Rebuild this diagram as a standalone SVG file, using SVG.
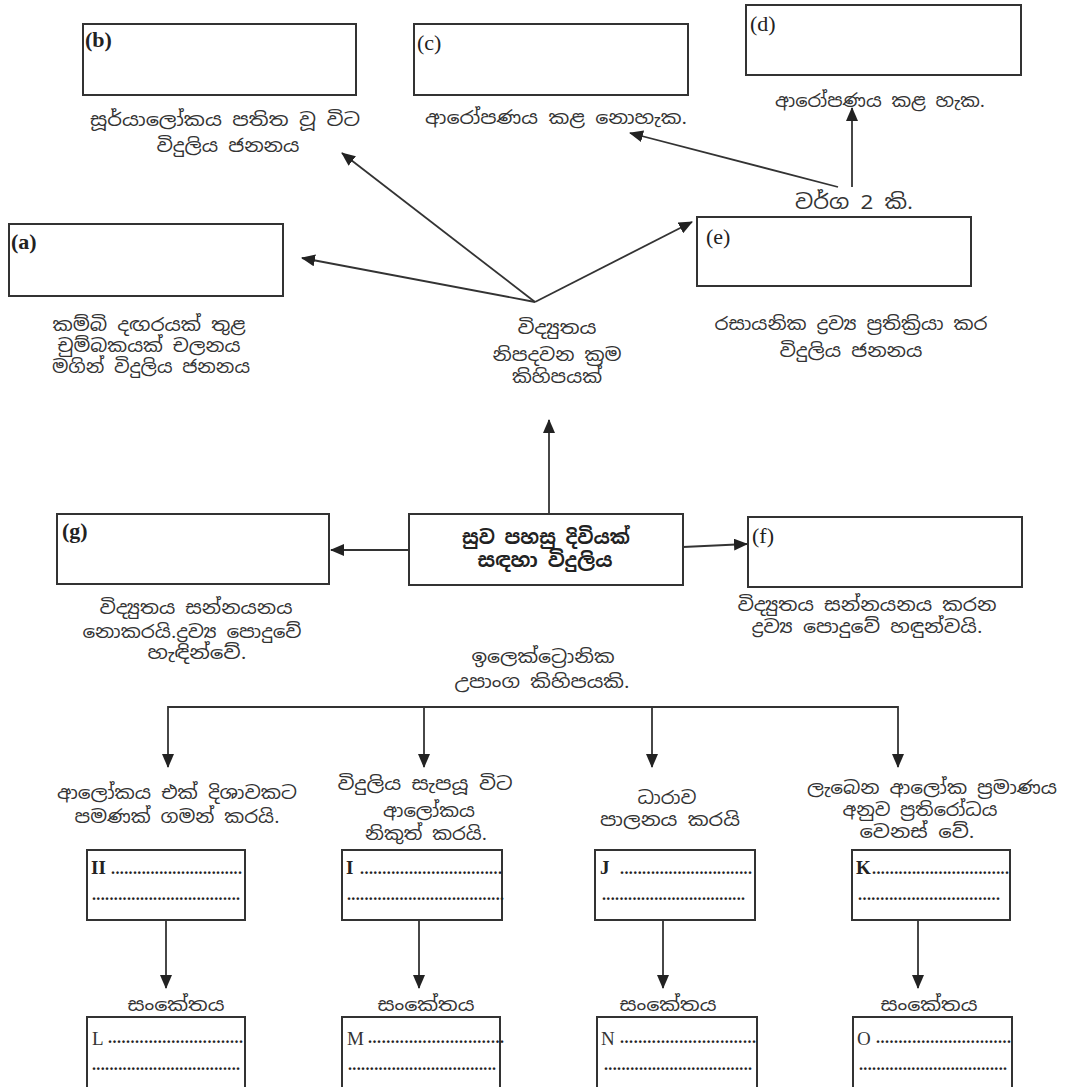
<svg xmlns="http://www.w3.org/2000/svg" width="1065" height="1087" viewBox="0 0 1065 1087">
<style>
.box{fill:#fff;stroke:#333;stroke-width:2}
.lbl{font-family:"Liberation Serif",serif;font-size:22px;fill:#222}
.b{font-weight:bold}
.si{font-family:"Noto Sans Sinhala","Noto Sans",sans-serif;font-size:18px;fill:#333;text-anchor:middle}
.big{font-size:20px}
.main{font-weight:bold;font-size:19px;fill:#222}
.let{font-family:"Liberation Serif",serif;font-size:19px;fill:#222;font-weight:bold}
.reg{font-weight:normal;fill:#333}
.dots{font-family:"Liberation Serif",serif;font-size:16px;fill:#222;font-weight:bold}
.ln{stroke:#333;stroke-width:1.8;fill:none}
</style>
<defs>
<marker id="ah" markerUnits="userSpaceOnUse" markerWidth="14" markerHeight="12" refX="13" refY="6" orient="auto">
<path d="M0,0 L14,6 L0,12 Z" fill="#222"/>
</marker>
</defs>
<rect width="1065" height="1087" fill="#fff"/>

<g id="connectors">
<line class="ln" x1="535" y1="302" x2="302" y2="258" marker-end="url(#ah)"/>
<line class="ln" x1="535" y1="302" x2="342" y2="153" marker-end="url(#ah)"/>
<line class="ln" x1="535" y1="302" x2="692" y2="222" marker-end="url(#ah)"/>
<line class="ln" x1="838" y1="187" x2="630" y2="133" marker-end="url(#ah)"/>
<line class="ln" x1="852" y1="187" x2="852" y2="108" marker-end="url(#ah)"/>
<line class="ln" x1="549" y1="514" x2="549" y2="420" marker-end="url(#ah)"/>
<line class="ln" x1="409" y1="550" x2="331" y2="550" marker-end="url(#ah)"/>
<line class="ln" x1="683" y1="547" x2="747" y2="544" marker-end="url(#ah)"/>
<line class="ln" x1="168" y1="707" x2="898" y2="707"/>
<line class="ln" x1="168" y1="706" x2="168" y2="767" marker-end="url(#ah)"/>
<line class="ln" x1="424" y1="707" x2="424" y2="767" marker-end="url(#ah)"/>
<line class="ln" x1="652" y1="707" x2="652" y2="767" marker-end="url(#ah)"/>
<line class="ln" x1="898" y1="706" x2="898" y2="767" marker-end="url(#ah)"/>
<line class="ln" x1="166" y1="920" x2="166" y2="988" marker-end="url(#ah)"/>
<line class="ln" x1="419" y1="920" x2="419" y2="988" marker-end="url(#ah)"/>
<line class="ln" x1="663" y1="920" x2="663" y2="988" marker-end="url(#ah)"/>
<line class="ln" x1="918" y1="920" x2="918" y2="988" marker-end="url(#ah)"/>
</g>

<g id="node-b">
<rect class="box" x="83" y="24" width="273" height="71"/>
<text class="lbl b" x="85" y="47">(b)</text>
<text class="si" x="225" y="126" textLength="270" lengthAdjust="spacingAndGlyphs">සූර්යාලෝකය පතිත වූ විට</text>
<text class="si" x="228" y="152" textLength="143" lengthAdjust="spacingAndGlyphs">විදුලිය ජනනය</text>
</g>
<g id="node-c">
<rect class="box" x="414" y="24" width="274" height="71"/>
<text class="lbl" x="417" y="50">(c)</text>
<text class="si" x="556" y="124" textLength="262" lengthAdjust="spacingAndGlyphs">ආරෝපණය කළ නොහැක.</text>
</g>
<g id="node-d">
<rect class="box" x="746" y="5" width="275" height="70"/>
<text class="lbl" x="750" y="31">(d)</text>
<text class="si" x="880" y="107" textLength="210" lengthAdjust="spacingAndGlyphs">ආරෝපණය කළ හැක.</text>
</g>
<g id="node-e">
<text class="si big" x="854" y="209" textLength="118" lengthAdjust="spacingAndGlyphs">වර්ග 2 කි.</text>
<rect class="box" x="697" y="217" width="274" height="69"/>
<text class="lbl" x="706" y="244">(e)</text>
<text class="si" x="851" y="330" textLength="273" lengthAdjust="spacingAndGlyphs">රසායනික ද්‍රව්‍ය ප්‍රතික්‍රියා කර</text>
<text class="si" x="851" y="357" textLength="143" lengthAdjust="spacingAndGlyphs">විදුලිය ජනනය</text>
</g>
<g id="node-a">
<rect class="box" x="9" y="224" width="274" height="72"/>
<text class="lbl b" x="11" y="249">(a)</text>
<text class="si" x="149" y="331" textLength="193" lengthAdjust="spacingAndGlyphs">කම්බි දඟරයක් තුළ</text>
<text class="si" x="149" y="352" textLength="183" lengthAdjust="spacingAndGlyphs">චුම්බකයක් චලනය</text>
<text class="si" x="151" y="373" textLength="198" lengthAdjust="spacingAndGlyphs">මගින් විදුලිය ජනනය</text>
</g>
<g id="node-methods">
<text class="si" x="557" y="334" textLength="79" lengthAdjust="spacingAndGlyphs">විද්‍යුතය</text>
<text class="si" x="557" y="361" textLength="129" lengthAdjust="spacingAndGlyphs">නිපදවන ක්‍රම</text>
<text class="si" x="557" y="383" textLength="90" lengthAdjust="spacingAndGlyphs">කිහිපයක්</text>
</g>
<g id="node-main">
<rect class="box" x="409" y="514" width="274" height="71"/>
<text class="si main" x="546" y="544" textLength="168" lengthAdjust="spacingAndGlyphs">සුව පහසු දිවියක්</text>
<text class="si main" x="545" y="567" textLength="135" lengthAdjust="spacingAndGlyphs">සඳහා විදුලිය</text>
</g>
<g id="node-g">
<rect class="box" x="57" y="514" width="272" height="70"/>
<text class="lbl b" x="62" y="538">(g)</text>
<text class="si" x="196" y="614" textLength="193" lengthAdjust="spacingAndGlyphs">විද්‍යුතය සන්නයනය</text>
<text class="si" x="192" y="638" textLength="219" lengthAdjust="spacingAndGlyphs">නොකරයි.ද්‍රව්‍ය පොදුවේ</text>
<text class="si" x="197" y="659" textLength="99" lengthAdjust="spacingAndGlyphs">හැඳින්වේ.</text>
</g>
<g id="node-f">
<rect class="box" x="748" y="517" width="274" height="70"/>
<text class="lbl" x="752" y="543">(f)</text>
<text class="si" x="867" y="611" textLength="259" lengthAdjust="spacingAndGlyphs">විද්‍යුතය සන්නයනය කරන</text>
<text class="si" x="867" y="633" textLength="231" lengthAdjust="spacingAndGlyphs">ද්‍රව්‍ය පොදුවේ හඳුන්වයි.</text>
</g>
<g id="node-electronics">
<text class="si" x="543" y="663" textLength="143" lengthAdjust="spacingAndGlyphs">ඉලෙක්ට්‍රොනික</text>
<text class="si" x="542" y="688" textLength="175" lengthAdjust="spacingAndGlyphs">උපාංග කිහිපයකි.</text>
</g>

<g id="node-H">
<text class="si" x="177" y="799" textLength="240" lengthAdjust="spacingAndGlyphs">ආලෝකය එක් දිශාවකට</text>
<text class="si" x="177" y="823" textLength="205" lengthAdjust="spacingAndGlyphs">පමණක් ගමන් කරයි.</text>
<rect class="box" x="87" y="850" width="158" height="70"/>
<text class="let" x="91" y="874">II</text>
<text class="dots" x="111" y="874" textLength="131">..............................</text>
<text class="dots" x="92" y="900" textLength="148">..................................</text>
</g>
<g id="node-I">
<text class="si" x="425" y="790" textLength="175" lengthAdjust="spacingAndGlyphs">විදුලිය සැපයූ විට</text>
<text class="si" x="429" y="817" textLength="92" lengthAdjust="spacingAndGlyphs">ආලෝකය</text>
<text class="si" x="426" y="840" textLength="122" lengthAdjust="spacingAndGlyphs">නිකුත් කරයි.</text>
<rect class="box" x="342" y="850" width="160" height="70"/>
<text class="let" x="346" y="874">I</text>
<text class="dots" x="360" y="874" textLength="142">................................</text>
<text class="dots" x="347" y="900" textLength="157">....................................</text>
</g>
<g id="node-J">
<text class="si" x="667" y="804" textLength="59" lengthAdjust="spacingAndGlyphs">ධාරාව</text>
<text class="si" x="670" y="826" textLength="140" lengthAdjust="spacingAndGlyphs">පාලනය කරයි</text>
<rect class="box" x="595" y="850" width="160" height="70"/>
<text class="let" x="600" y="874">J</text>
<text class="dots" x="620" y="874" textLength="132">..............................</text>
<text class="dots" x="602" y="900" textLength="143">.................................</text>
</g>
<g id="node-K">
<text class="si" x="932" y="794" textLength="250" lengthAdjust="spacingAndGlyphs">ලැබෙන ආලෝක ප්‍රමාණය</text>
<text class="si" x="920" y="816" textLength="155" lengthAdjust="spacingAndGlyphs">අනුව ප්‍රතිරෝධය</text>
<text class="si" x="917" y="838" textLength="115" lengthAdjust="spacingAndGlyphs">වෙනස් වේ.</text>
<rect class="box" x="852" y="850" width="158" height="70"/>
<text class="let" x="856" y="874">K</text>
<text class="dots" x="872" y="874" textLength="137">...............................</text>
<text class="dots" x="858" y="900" textLength="142">................................</text>
</g>

<g id="node-L">
<text class="si" x="176" y="1011" textLength="97" lengthAdjust="spacingAndGlyphs">සංකේතය</text>
<rect class="box" x="87" y="1017" width="158" height="80"/>
<text class="let reg" x="92" y="1045">L</text>
<text class="dots" x="108" y="1043" textLength="135">..............................</text>
<text class="dots" x="92" y="1070" textLength="148">..................................</text>
</g>
<g id="node-M">
<text class="si" x="426" y="1011" textLength="97" lengthAdjust="spacingAndGlyphs">සංකේතය</text>
<rect class="box" x="342" y="1017" width="158" height="80"/>
<text class="let reg" x="347" y="1045">M</text>
<text class="dots" x="368" y="1043" textLength="136">..............................</text>
<text class="dots" x="348" y="1070" textLength="148">..................................</text>
</g>
<g id="node-N">
<text class="si" x="668" y="1011" textLength="97" lengthAdjust="spacingAndGlyphs">සංකේතය</text>
<rect class="box" x="597" y="1017" width="160" height="80"/>
<text class="let reg" x="601" y="1045">N</text>
<text class="dots" x="620" y="1043" textLength="136">..............................</text>
<text class="dots" x="604" y="1070" textLength="148">..................................</text>
</g>
<g id="node-O">
<text class="si" x="929" y="1011" textLength="97" lengthAdjust="spacingAndGlyphs">සංකේතය</text>
<rect class="box" x="853" y="1017" width="159" height="80"/>
<text class="let reg" x="857" y="1045">O</text>
<text class="dots" x="876" y="1043" textLength="135">..............................</text>
<text class="dots" x="859" y="1070" textLength="148">..................................</text>
</g>
</svg>
